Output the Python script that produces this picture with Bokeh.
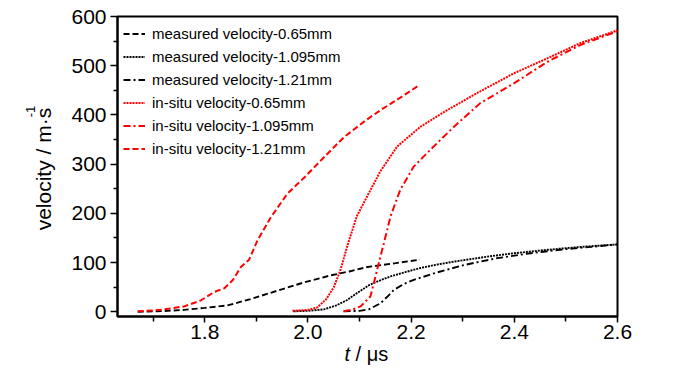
from bokeh.plotting import figure
from bokeh.models import FixedTicker, NumeralTickFormatter, Label, Range1d
from bokeh.embed import file_html
from bokeh.resources import INLINE
import math

# ---- data ----
m065_t = [1.670, 1.720, 1.760, 1.800, 1.844, 1.889, 1.941, 1.993, 2.044, 2.080, 2.115, 2.170, 2.217]
m065_v = [0, 1.5, 4, 8, 13, 26, 43, 60, 74, 82, 91, 99, 106]

m1095_t = [1.972, 2.000, 2.031, 2.055, 2.076, 2.095, 2.118, 2.140, 2.160, 2.190, 2.218, 2.250, 2.283, 2.347, 2.399, 2.464, 2.530, 2.600]
m1095_v = [1, 2, 5, 13, 24, 38, 54, 64, 72, 81, 89, 96, 102, 112, 119, 126, 132, 137]

m121_t = [2.069, 2.100, 2.118, 2.140, 2.155, 2.167, 2.185, 2.205, 2.250, 2.302, 2.367, 2.431, 2.496, 2.550, 2.600]
m121_v = [1, 2, 5, 17, 32, 45, 56, 65, 80, 95, 109, 119, 127, 132, 137]

s065_t = [1.970, 2.000, 2.018, 2.035, 2.050, 2.063, 2.078, 2.095, 2.115, 2.140, 2.173, 2.218, 2.270, 2.334, 2.400, 2.464, 2.528, 2.600]
s065_v = [2, 4, 9, 25, 50, 85, 140, 195, 235, 285, 336, 376, 410, 448, 485, 515, 546, 572]

s1095_t = [2.069, 2.085, 2.102, 2.121, 2.134, 2.147, 2.160, 2.179, 2.205, 2.237, 2.283, 2.334, 2.399, 2.464, 2.528, 2.600]
s1095_v = [1, 4, 11, 31, 85, 139, 194, 248, 295, 329, 376, 424, 464, 508, 542, 570]

s121_t = [1.670, 1.715, 1.760, 1.792, 1.818, 1.838, 1.854, 1.870, 1.886, 1.902, 1.928, 1.960, 1.993, 2.031, 2.070, 2.112, 2.141, 2.176, 2.212]
s121_v = [1, 4, 11, 23, 40, 48, 64, 91, 106, 145, 192, 240, 273, 314, 355, 389, 410, 433, 458]

x_major = [1.8, 2.0, 2.2, 2.4, 2.6]
x_minor = [1.7, 1.9, 2.1, 2.3, 2.5]
y_major = [0, 100, 200, 300, 400, 500, 600]
y_minor = [50, 150, 250, 350, 450, 550]

labels = ["measured velocity-0.65mm", "measured velocity-1.095mm", "measured velocity-1.21mm",
          "in-situ velocity-0.65mm", "in-situ velocity-1.095mm", "in-situ velocity-1.21mm"]

X0, X1 = 1.6308, 2.6
Y0, Y1 = -9.5, 600

p = figure(width=700, height=374, output_backend="svg", toolbar_location=None,
           x_range=Range1d(X0, X1), y_range=Range1d(Y0, Y1),
           min_border_left=117, min_border_right=83, min_border_top=16, min_border_bottom=58)
p.background_fill_color = "white"
p.border_fill_color = "white"
p.outline_line_color = "black"
p.outline_line_width = 2
p.xgrid.visible = False
p.ygrid.visible = False

tick_font = "Liberation Sans"
for ax in (p.xaxis[0], p.yaxis[0]):
    ax.axis_line_width = 2
    ax.axis_line_color = "black"
    ax.major_tick_line_color = "black"
    ax.minor_tick_line_color = "black"
    ax.major_tick_line_width = 1.5
    ax.minor_tick_line_width = 1.5
    ax.major_tick_in = 0
    ax.minor_tick_in = 0
    ax.major_label_text_font = tick_font
    ax.major_label_text_font_size = "21px"
    ax.major_label_text_color = "black"

p.xaxis[0].ticker = FixedTicker(ticks=x_major, minor_ticks=x_minor)
p.xaxis[0].formatter = NumeralTickFormatter(format="0.0")
p.xaxis[0].major_tick_out = 6
p.xaxis[0].minor_tick_out = 5
p.xaxis[0].major_label_standoff = 2

p.yaxis[0].ticker = FixedTicker(ticks=y_major, minor_ticks=y_minor)
p.yaxis[0].major_tick_out = 7
p.yaxis[0].minor_tick_out = 4
p.yaxis[0].major_label_standoff = 4

p.line(m065_t, m065_v, line_color="black", line_width=1.9, line_dash="6 3", legend_label=labels[0])
p.line(m1095_t, m1095_v, line_color="black", line_width=1.9, line_dash="2 1", legend_label=labels[1])
p.line(m121_t, m121_v, line_color="black", line_width=1.9, line_dash="7 3 2 3", legend_label=labels[2])
p.line(s065_t, s065_v, line_color="#ff0000", line_width=2, line_dash="2 1", legend_label=labels[3])
p.line(s1095_t, s1095_v, line_color="#ff0000", line_width=2, line_dash="7 3 2 3", legend_label=labels[4])
p.line(s121_t, s121_v, line_color="#ff0000", line_width=2, line_dash="6 3", legend_label=labels[5])

lg = p.legend[0]
lg.location = (6, 156)
lg.border_line_color = None
lg.background_fill_alpha = 0
lg.margin = 0
lg.padding = 0
lg.spacing = 0
lg.label_height = 23
lg.glyph_height = 23
lg.glyph_width = 22
lg.label_standoff = 7
lg.label_text_font = "Liberation Sans"
lg.label_text_font_size = "15px"
lg.label_text_color = "black"

# axis titles (placed in side panels so they are not clipped to the frame)
p.add_layout(Label(x=2.0815, y=-85, text="t", text_font="Liberation Sans", text_font_style="italic",
                   text_font_size="20px", text_align="right", text_baseline="alphabetic",
                   text_color="black"), "right")
p.add_layout(Label(x=2.0923, y=-85, text="/ μs", text_font="Liberation Sans",
                   text_font_size="20px", text_align="left", text_baseline="alphabetic",
                   text_color="black"), "right")
p.add_layout(Label(x=1.4874, y=290, text="velocity / m·s", text_font="Liberation Sans",
                   text_font_size="21px", text_align="center", text_baseline="middle",
                   angle=math.pi / 2, text_color="black"), "left")
p.add_layout(Label(x=1.4622, y=407, text="-1", text_font="Liberation Sans",
                   text_font_size="13px", text_align="center", text_baseline="middle",
                   angle=math.pi / 2, text_color="black"), "left")

open("out.html", "w").write(file_html(p, INLINE))
